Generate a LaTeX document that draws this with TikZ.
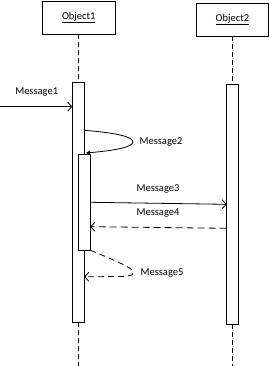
\documentclass[tikz,border=0pt]{standalone}
\usepackage{fontspec}
\setmainfont{Carlito}
\usetikzlibrary{arrows.meta}
\begin{document}
\begin{tikzpicture}[x=1pt,y=-1pt,
  every node/.style={font=\fontsize{10.5}{12}\selectfont},
  objbox/.style={draw,line width=0.8pt,inner sep=0pt,minimum width=72.5pt,minimum height=33pt},
  actbar/.style={draw,fill=white,line width=0.8pt,inner sep=0pt,minimum width=11.6pt},
  lifeline/.style={line width=0.8pt,dash pattern=on 5pt off 3pt},
  msg/.style={line width=0.8pt,-{Straight Barb[length=4pt,width=9pt,line width=0.8pt]}},
  reply/.style={msg,dash pattern=on 7pt off 4pt},
  lbl/.style={inner sep=0pt}]
\useasboundingbox (0,0) rectangle (269,366);
% objects
\node[objbox] (o1) at (78.75,17.5) {\underline{Object1}};
\node[objbox,minimum height=32.7pt] (o2) at (232.4,19.7) {\underline{Object2}};
% lifeline ends
\coordinate (e1) at (78.75,366);
\coordinate (e2) at (232.4,366);
\draw[lifeline] (o1.south) -- (e1);
\draw[lifeline] (o2.south) -- (e2);
% activations
\node[actbar,minimum height=239.7pt] (a1) at (78.5,202.15) {};
\node[actbar,minimum height=240pt] (a2) at (232.5,204.3) {};
\node[actbar,minimum width=12pt,minimum height=96.3pt] (a3) at (84.3,202.15) {};
% Message1
\coordinate (m1s) at (0,106.7);
\draw[msg] (m1s) -- (m1s -| a1.west);
\node[lbl] (l1) at (36.7,91.7) {Message1};
% Message2 (self call)
\coordinate (m2s) at (84.3,130.3);
\coordinate (m2e) at (86,153);
\draw[line width=0.8pt,-{Triangle[length=4pt,width=4pt]}] (m2s) .. controls (118,133) and (133,137) .. (133,142) .. controls (133,147) and (115,150.5) .. (m2e);
\node[lbl] (l2) at (161,141.7) {Message2};
% Message3
\coordinate (m3s) at (90.3,202.3);
\coordinate (m3e) at (226.7,204.3);
\draw[msg] (m3s) -- (m3e);
\node[lbl] (l3) at (158,189) {Message3};
% Message4
\coordinate (m4s) at (226.7,228.3);
\coordinate (m4e) at (90.3,226.7);
\draw[reply] (m4s) -- (m4e);
\node[lbl] (l4) at (158,212.7) {Message4};
% Message5
\coordinate (m5s) at (90.3,250.3);
\coordinate (m5e) at (84.3,276.8);
\draw[reply,dash pattern=on 6pt off 4pt] (m5s) .. controls (112,259) and (128,266) .. (132,270) .. controls (136,274) and (132,276.5) .. (120,276.5) -- (m5e);
\node[lbl] (l5) at (162,273) {Message5};
\end{tikzpicture}
\end{document}
